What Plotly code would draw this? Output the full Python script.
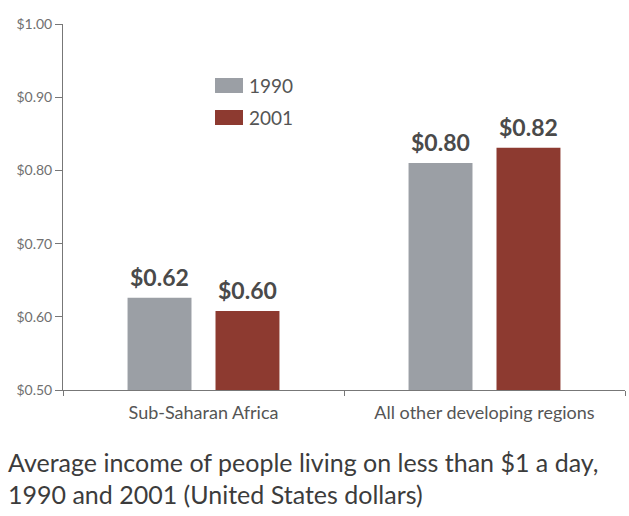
import plotly.graph_objects as go

categories = ["Sub-Saharan Africa", "All other developing regions"]
series_names = ["1990", "2001"]
values_1990 = [0.626, 0.810]
values_2001 = [0.608, 0.831]
labels_1990 = ["$0.62", "$0.80"]
labels_2001 = ["$0.60", "$0.82"]
y_ticks = [0.5, 0.6, 0.7, 0.8, 0.9, 1.0]
y_tick_text = ["$0.50", "$0.60", "$0.70", "$0.80", "$0.90", "$1.00"]

GRAY = "#9b9fa5"
RED = "#8d3a30"
FONT = "Lato"

fig = go.Figure()
fig.add_trace(go.Bar(x=categories, y=values_1990, name=series_names[0],
                     marker=dict(color=GRAY, line=dict(width=0)), base=0))
fig.add_trace(go.Bar(x=categories, y=values_2001, name=series_names[1],
                     marker=dict(color=RED, line=dict(width=0)), base=0))

annotations = []
for vals, labs, shift in [(values_1990, labels_1990, -44), (values_2001, labels_2001, 44)]:
    for c, v, t in zip(categories, vals, labs):
        annotations.append(dict(x=c, y=v, xref="x", yref="y", text=t, showarrow=False,
                                xshift=shift, yshift=5, yanchor="bottom",
                                font=dict(family=FONT, size=23, color="#4a4a4a", weight="bold")))

# legend (custom)
leg_colors = [GRAY, RED]
leg_y = [(0.8525, 0.8115), (0.765, 0.724)]
shapes = []
for col, (yt, yb), name in zip(leg_colors, leg_y, series_names):
    shapes.append(dict(type="rect", xref="paper", yref="paper", x0=0.2705, x1=0.3203,
                       y0=yb, y1=yt, fillcolor=col, line=dict(width=0)))
    annotations.append(dict(x=0.3274, y=(yt + yb) / 2, xref="paper", yref="paper", text=name,
                            showarrow=False, xanchor="left", yanchor="middle",
                            font=dict(family=FONT, size=19, color="#555555")))

# caption
annotations.append(dict(x=-0.101, y=-0.197, xref="paper", yref="paper",
                        text="Average income of people living on less than $1 a day,",
                        showarrow=False, xanchor="left", yanchor="middle",
                        font=dict(family=FONT, size=25, color="#3c3c3c")))
annotations.append(dict(x=-0.101, y=-0.284, xref="paper", yref="paper",
                        text="1990 and 2001 (United States dollars)",
                        showarrow=False, xanchor="left", yanchor="middle",
                        font=dict(family=FONT, size=25, color="#3c3c3c")))

fig.update_layout(
    width=629, height=516,
    margin=dict(l=63, r=4, t=24, b=126),
    paper_bgcolor="white", plot_bgcolor="white",
    barmode="group", bargap=0.374, bargroupgap=0.273,
    showlegend=False,
    annotations=annotations, shapes=shapes,
    xaxis=dict(showline=True, linecolor="#777777", linewidth=1, ticks="outside",
               tickson="boundaries", ticklen=5, tickcolor="#777777", ticklabelstandoff=6,
               tickfont=dict(family=FONT, size=18, color="#555555"), showgrid=False),
    yaxis=dict(range=[0.5, 1.0], tickvals=y_ticks, ticktext=y_tick_text,
               showline=True, linecolor="#777777", linewidth=1, ticks="outside",
               ticklen=7, tickcolor="#777777", showgrid=False, zeroline=False,
               tickfont=dict(family=FONT, size=14, color="#707070")),
)

fig.write_html("out.html")
